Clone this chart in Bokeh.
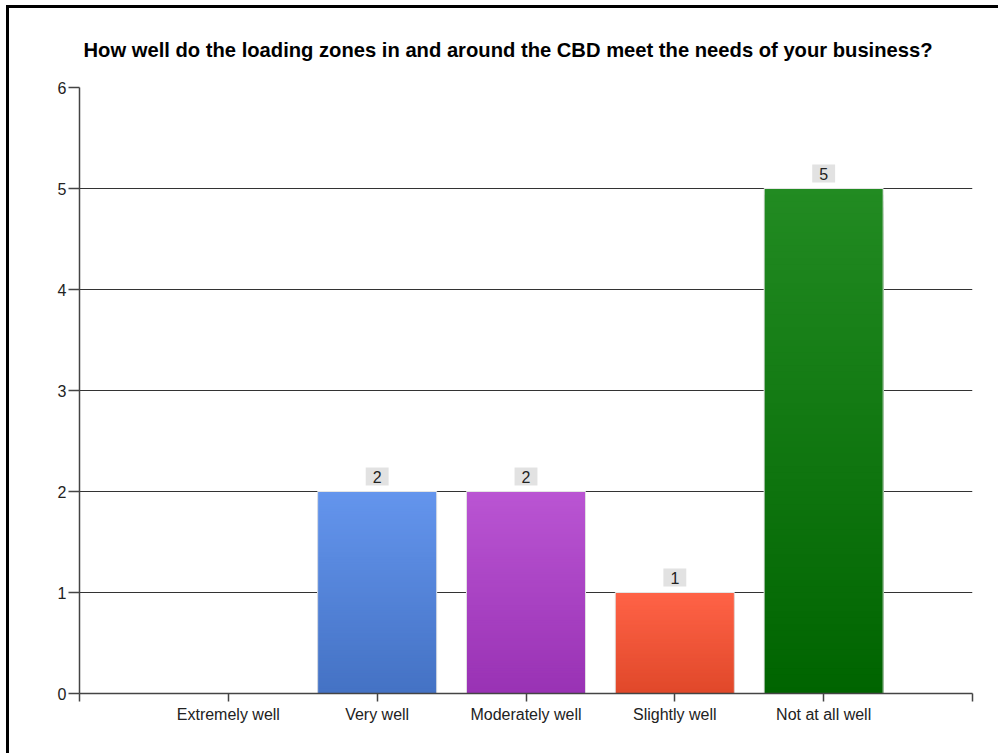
from bokeh.plotting import figure
from bokeh.models import Range1d, FixedTicker, Label
from bokeh.embed import file_html
from bokeh.resources import INLINE

categories = ["Extremely well", "Very well", "Moderately well", "Slightly well", "Not at all well"]
counts = [0, 2, 2, 1, 5]
top_colors = ["#6495ED", "#6495ED", "#BA55D3", "#FF6347", "#228B22"]
bottom_colors = ["#4472C4", "#4472C4", "#9932B4", "#E0482A", "#006400"]
y_ticks = [0, 1, 2, 3, 4, 5, 6]
title = "How well do the loading zones in and around the CBD meet the needs of your business?"

FONT = "Liberation Sans"
X_MAX = len(categories) + 1
Y_MAX = y_ticks[-1]


def hex2rgb(h):
    h = h.lstrip("#")
    return tuple(int(h[i:i + 2], 16) for i in (0, 2, 4))


def mix(c1, c2, t):
    a, b = hex2rgb(c1), hex2rgb(c2)
    return "#%02x%02x%02x" % tuple(round(a[i] + (b[i] - a[i]) * t) for i in range(3))


p = figure(frame_width=893, frame_height=606,
           min_border_left=70, min_border_top=79, min_border_right=26, min_border_bottom=60,
           x_range=Range1d(0, X_MAX), y_range=Range1d(0, Y_MAX),
           output_backend="svg", toolbar_location=None, title=title)
p.styles = {"border-left": "3px solid black", "border-top": "3px solid black",
            "margin-left": "6px", "margin-top": "5px"}

p.title.text_font = FONT
p.title.text_font_size = "20.2px"
p.title.text_font_style = "bold"
p.title.align = "left"
p.title.offset = 4
p.title.standoff = 54
p.title.text_color = "black"

p.outline_line_color = None
p.background_fill_color = "white"
p.border_fill_color = "white"

# gradient bars: overlapping slices drawn tallest first (no seams)
N = 80
xs, tops, cols = [], [], []
for i, (v, tc, bc) in enumerate(zip(counts, top_colors, bottom_colors)):
    if v <= 0:
        continue
    for k in reversed(range(N)):
        xs.append(i + 1)
        tops.append(v * (k + 1) / N)
        cols.append(mix(bc, tc, (k + 0.5) / N))
p.vbar(x=xs, bottom=0, top=tops, width=0.8, fill_color=cols, line_color=None)

xb = [i + 1 for i, v in enumerate(counts) if v > 0]
vb = [v for v in counts if v > 0]
p.vbar(x=xb, top=vb, width=0.8, fill_color=None, line_color="#e4e4e4", line_width=1)

for x, v in zip(xb, vb):
    p.add_layout(Label(x=x, y=v, text=str(v), y_offset=6,
                       text_align="center", text_baseline="bottom",
                       text_font=FONT, text_font_size="16px", text_color="#222222",
                       background_fill_color="#e2e2e2", padding=(7, 3)))

# grid
p.ygrid.ticker = FixedTicker(ticks=y_ticks)
p.ygrid.grid_line_color = "#333333"
p.ygrid.grid_line_width = 1.2
p.xgrid.visible = False

# axes
p.yaxis.ticker = FixedTicker(ticks=y_ticks)
p.xaxis.ticker = FixedTicker(ticks=list(range(0, X_MAX + 1)))
overrides = {i + 1: c for i, c in enumerate(categories)}
overrides.update({0: "", X_MAX: ""})
p.xaxis.major_label_overrides = overrides
for ax in (p.xaxis[0], p.yaxis[0]):
    ax.axis_line_color = "#444444"
    ax.axis_line_width = 1.5
    ax.major_tick_line_color = "#444444"
    ax.major_tick_line_width = 1.5
    ax.major_tick_in = 0
    ax.minor_tick_line_color = None
    ax.major_label_text_font = FONT
    ax.major_label_text_font_size = "16px"
    ax.major_label_text_color = "#222222"
p.xaxis.major_tick_out = 8
p.yaxis.major_tick_out = 11
p.xaxis.major_label_standoff = 4
p.yaxis.major_label_standoff = 2

open("out.html", "w").write(file_html(p, INLINE))
